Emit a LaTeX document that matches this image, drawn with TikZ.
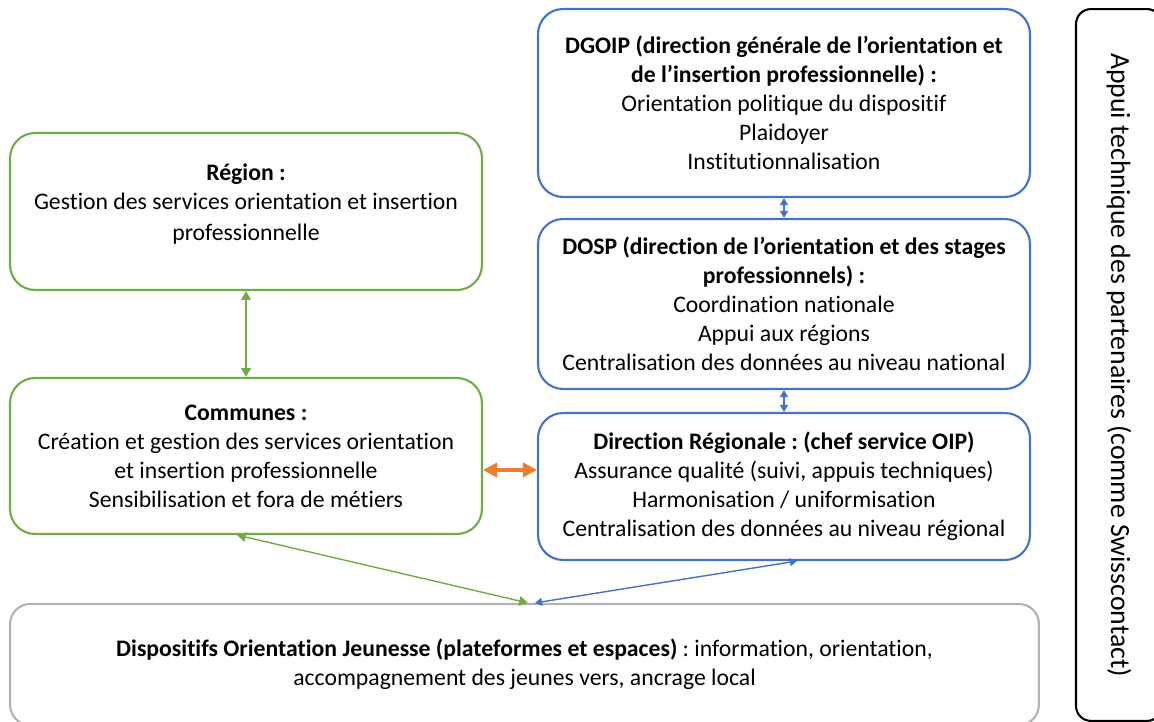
\documentclass[tikz,border=0pt]{standalone}
\usepackage{fontspec}
\setmainfont{Carlito}[Ligatures=NoCommon]
\usetikzlibrary{arrows.meta}
\definecolor{bblue}{RGB}{68,114,196}
\definecolor{ggreen}{RGB}{112,173,71}
\definecolor{oorange}{RGB}{237,125,49}
\definecolor{ggray}{RGB}{178,178,178}
\frenchspacing
\begin{document}
\begin{tikzpicture}[x=0.02cm, y=-0.02cm,
  txt/.style={align=center, inner sep=0pt, font=\fontsize{13.5}{16.5}\selectfont},
  box/.style={draw=#1, rounded corners=0.5cm, line width=1.2pt, txt},
  garrow/.style={draw=ggreen, line width=0.8pt, {Triangle[length=5pt,width=5.5pt]}-{Triangle[length=5pt,width=5.5pt]}},
  barrow/.style={draw=bblue, line width=0.8pt, {Triangle[length=4pt,width=4.5pt]}-{Triangle[length=4pt,width=4.5pt]}},
  oarrow/.style={draw=oorange, line width=2.5pt, {Triangle[length=8pt,width=8pt]}-{Triangle[length=8pt,width=8pt]}}
]
\useasboundingbox (0,0) rectangle (1154,722);

\node[box=bblue, minimum width=9.84cm, minimum height=3.76cm] (dgoip) at (784,103)
  {\textbf{DGOIP (direction générale de l’orientation et}\\
   \textbf{de l’insertion professionnelle) :}\\
   Orientation politique du dispositif\\
   Plaidoyer\\
   Institutionnalisation};

\node[box=bblue, minimum width=9.84cm, minimum height=3.4cm] (dosp) at (784,304)
  {\textbf{DOSP (direction de l’orientation et des stages}\\
   \textbf{professionnels) :}\\
   Coordination nationale\\
   Appui aux régions\\
   Centralisation des données au niveau national};

\node[box=bblue, minimum width=9.84cm, minimum height=2.94cm] (dr) at (784,486.5)
  {\textbf{Direction Régionale : (chef service OIP)}\\
   Assurance qualité (suivi, appuis techniques)\\
   Harmonisation / uniformisation\\
   Centralisation des données au niveau régional};

\node[box=ggreen, minimum width=9.44cm, minimum height=3.14cm] (region) at (246,211.5) {};
\node[txt] (regiontxt) at (246,204)
  {\textbf{Région :}\\
   Gestion des services orientation et insertion\\[1pt]
   professionnelle};

\node[box=ggreen, minimum width=9.44cm, minimum height=3.12cm] (communes) at (246,456)
  {\textbf{Communes :}\\
   Création et gestion des services orientation\\
   et insertion professionnelle\\
   Sensibilisation et fora de métiers};

\node[box=ggray, rounded corners=0.4cm, minimum width=20.58cm, minimum height=2.42cm] (disp) at (524.5,664.5)
  {\textbf{Dispositifs Orientation Jeunesse (plateformes et espaces)} : information, orientation,\\
   accompagnement des jeunes vers, ancrage local};

\node[box=black, rounded corners=0.3cm, rotate=-90, minimum width=14.24cm, minimum height=1.72cm,
  font=\fontsize{15.8}{19}\selectfont] (partners) at (1119,365)
  {Appui technique des partenaires (comme Swisscontact)};

\draw[garrow] (region.south) -- (communes.north);
\draw[barrow] (dgoip.south) -- (dosp.north);
\draw[barrow] (dosp.south) -- (dr.north);
\draw[oarrow] (communes.east |- 0,470) -- (dr.west |- 0,470);
\draw[garrow] (communes.south -| 237,0) -- (disp.north -| 528,0);
\draw[barrow] (dr.south -| 797,0) -- (disp.north -| 535,0);
\end{tikzpicture}
\end{document}
